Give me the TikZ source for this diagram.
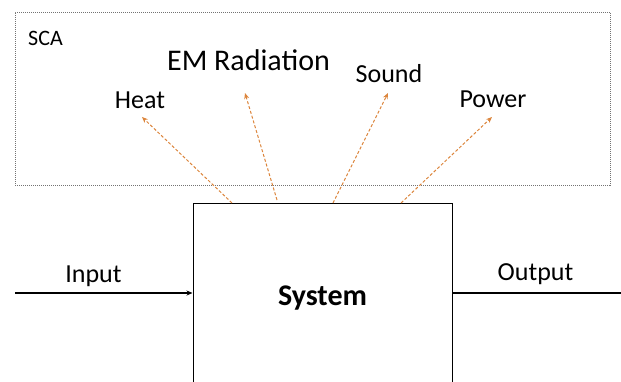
\documentclass[tikz,border=0pt]{standalone}
\usepackage{fontspec}
\setmainfont{Carlito}
\usetikzlibrary{arrows.meta}
\definecolor{leak}{RGB}{220,133,60}

\begin{document}
\begin{tikzpicture}[x=1pt,y=-1pt,>={Stealth[length=6pt,width=5pt]},
  every node/.style={font=\fontsize{26}{30}\selectfont,inner sep=0pt},
  leakarrow/.style={->,leak,dash pattern=on 3pt off 2pt,line width=1pt},
  flow/.style={line width=1.4pt}]
  \useasboundingbox (0,0) rectangle (621,381);
  \clip (0,0) rectangle (621,381);
  % side-channel area
  \node[draw=black!55,dash pattern=on 1pt off 1pt,line width=0.9pt,
    minimum width=595pt,minimum height=173pt] (sca) at (312.5,98.5) {};
  \node[font=\fontsize{22}{25}\selectfont,anchor=base west] (scalabel) at (28,45) {SCA};
  \node[font=\fontsize{30}{34}\selectfont,anchor=base] (em) at (248.5,70) {EM Radiation};
  \node[anchor=base] (heat) at (140,108) {Heat};
  \node[anchor=base] (sound) at (389,82) {Sound};
  \node[anchor=base] (power) at (493,107) {Power};
  % the system itself
  \node[draw,line width=1pt,minimum width=259pt,minimum height=186pt,
    font=\bfseries\fontsize{30}{34}\selectfont,text depth=0pt] (sys) at (322.5,296) {System};
  \node[anchor=base] (input) at (93.5,282) {Input};
  \node[anchor=base] (output) at (535.5,280) {Output};
  \coordinate (in) at (15,293);
  \coordinate (out) at (621,293);
  \draw[flow,->] (in) -- (in -| sys.west);
  \draw[flow] (out -| sys.east) -- (out);
  % leakage
  \coordinate (heatfrom) at (232,203);
  \coordinate (heatto) at (142,117);
  \coordinate (emfrom) at (277,200);
  \coordinate (emto) at (245,93);
  \coordinate (soundfrom) at (333,203);
  \coordinate (soundto) at (388,93);
  \coordinate (powerfrom) at (401,203);
  \coordinate (powerto) at (492,117);
  \draw[leakarrow] (heatfrom) -- (heatto);
  \draw[leakarrow] (emfrom) -- (emto);
  \draw[leakarrow] (soundfrom) -- (soundto);
  \draw[leakarrow] (powerfrom) -- (powerto);
\end{tikzpicture}
\end{document}
